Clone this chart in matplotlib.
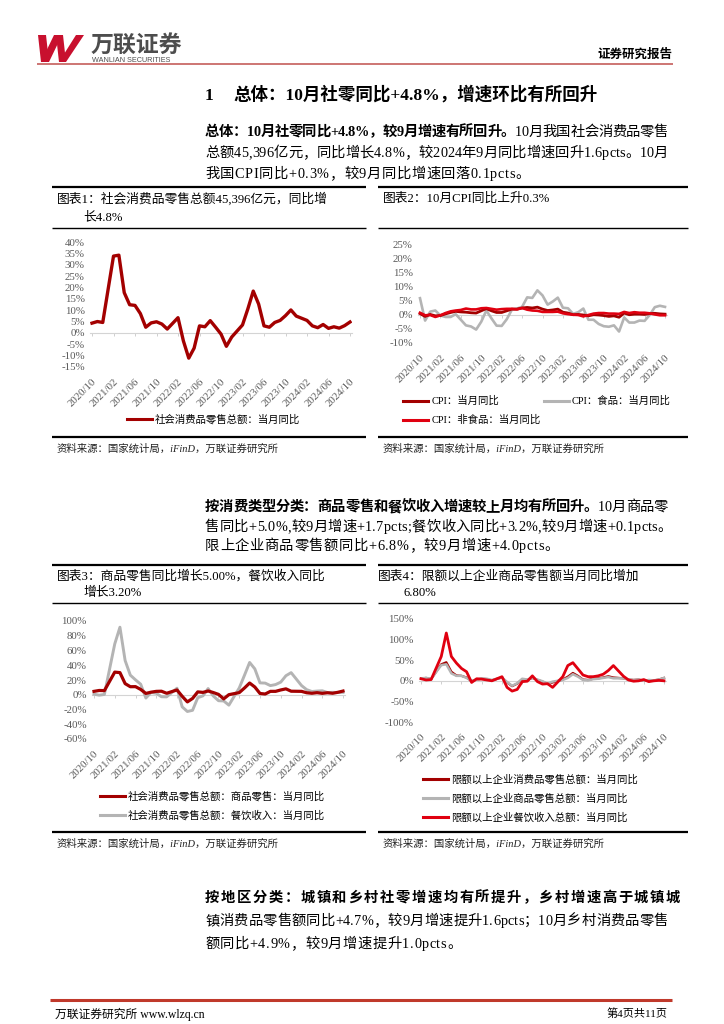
import numpy as np
import matplotlib
matplotlib.use('Agg')
import matplotlib.pyplot as plt
from matplotlib.lines import Line2D
from matplotlib.patches import Polygon

plt.rcParams['font.family'] = ['Liberation Serif', 'Noto Sans CJK SC']
plt.rcParams['axes.unicode_minus'] = False

nan = np.nan
W, H = 724, 1024

# monthly axis 2020/10 .. 2024/10
months = (['2020/10', '2020/11', '2020/12']
          + [f'{y}/{m:02d}' for y in (2021, 2022, 2023) for m in range(1, 13)]
          + [f'2024/{m:02d}' for m in range(1, 11)])
tick_labels = months[::4]

# chart 1: total retail sales yoy (%), Jan merged into Feb
retail_total = [4.3, 5.0, 4.6, nan, 33.8, 34.2, 17.7, 12.4, 12.1, 8.5, 2.5, 4.4, 4.9, 3.9, 1.7,
                nan, 6.7, -3.5, -11.1, -6.7, 3.1, 2.7, 5.4, 2.5, -0.5, -5.9, -1.8,
                nan, 3.5, 10.6, 18.4, 12.7, 3.1, 2.5, 4.6, 5.5, 7.6, 10.1, 7.4,
                nan, 5.5, 3.1, 2.3, 3.7, 2.0, 2.7, 2.1, 3.2, 4.8]

# chart 2: CPI yoy (%)
cpi_all = [0.5, -0.5, 0.2, -0.3, -0.2, 0.4, 0.9, 1.3, 1.1, 1.0, 0.8, 0.7, 1.5, 2.3, 1.5,
           0.9, 0.9, 1.5, 2.1, 2.1, 2.5, 2.7, 2.5, 2.8, 2.1, 1.6, 1.8,
           2.1, 1.0, 0.7, 0.1, 0.2, 0.0, -0.3, 0.1, 0.0, -0.2, -0.5, -0.3,
           -0.8, 0.7, 0.1, 0.3, 0.3, 0.2, 0.5, 0.6, 0.4, 0.3]
cpi_food = [6.0, -2.0, 1.2, 1.6, -0.2, -0.7, -0.7, 0.3, -1.7, -3.7, -4.1, -5.2, -2.4, 1.6, -1.2,
            -3.8, -3.9, -1.5, 1.9, 2.3, 2.9, 6.3, 6.1, 8.8, 7.0, 3.7, 4.8,
            6.2, 2.6, 2.4, 0.4, 1.0, 2.3, -1.7, -1.7, -3.2, -4.0, -4.2, -3.7,
            -5.9, -0.9, -2.7, -2.7, -2.0, -2.1, 0.0, 2.8, 3.3, 2.9]
cpi_nonfood = [0.8, -0.1, 0.0, -0.7, -0.1, 0.7, 1.3, 1.6, 1.8, 2.3, 2.0, 2.0, 2.4, 2.5, 2.2,
               1.9, 2.1, 2.2, 2.2, 2.0, 2.5, 1.9, 1.6, 1.5, 1.1, 1.1, 1.1,
               1.2, 0.6, 0.3, 0.1, 0.0, -0.5, 0.0, 0.5, 0.7, 0.7, 0.5, 0.5,
               0.4, 1.1, 0.7, 1.0, 0.8, 0.8, 0.6, 0.2, -0.1, -0.1]

# chart 3: goods retail / catering yoy (%)
goods = [4.6, 5.8, 5.6, nan, 30.7, 30.0, 15.1, 10.9, 11.0, 7.2, 1.8, 3.5, 4.6, 4.8, 2.0,
         nan, 6.5, -2.1, -9.7, -5.0, 3.9, 3.2, 5.1, 3.0, 0.5, -5.6, 0.1,
         nan, 2.9, 9.1, 15.9, 10.5, 1.7, 1.0, 4.6, 4.6, 6.5, 8.0, 4.8,
         nan, 4.6, 2.7, 2.0, 2.8, 1.9, 2.7, 2.0, 3.3, 5.0]
catering = [0.8, -0.6, 0.4, nan, 68.9, 91.6, 46.4, 26.6, 20.2, 14.3, -4.5, 3.1, 2.0, -2.7, -2.9,
            nan, 8.9, -16.4, -22.7, -21.1, -4.0, -1.5, 8.4, -1.7, -8.1, -8.4, -14.1,
            nan, 9.2, 26.3, 43.8, 35.1, 16.1, 15.8, 12.4, 13.8, 17.1, 25.8, 30.0,
            nan, 12.5, 6.9, 4.4, 5.0, 5.4, 3.0, 3.3, 3.1, 3.2]

# chart 4: above-limit enterprises yoy (%)
above_total = [5, 7, 4, nan, 40, 45, 22, 13, 12, 8, -1, 3, 5, 4, 1,
               nan, 8, -4, -13, -7, 4, 2, 7, 2, -2, -8, -4,
               nan, 3, 10, 19, 12, 3, 2, 5, 6, 8, 11, 8,
               nan, 6, 3, 2, 3, 0, 1, 1, 3, 7]
above_goods = [6, 7, 5, nan, 38, 40, 18, 12, 12, 7, 0, 3, 6, 5, 2,
               nan, 8, -3, -12, -6, 5, 3, 7, 3, -1, -7, -2,
               nan, 2, 7, 16, 10, 2, 1, 4, 5, 7, 9, 6,
               nan, 6, 3, 2, 3, 0, 2, 1, 3, 7]
above_catering = [5, 2, 3, nan, 59, 116, 59, 43, 30, 22, -4, 5, 4, 2, 0,
                  nan, 10, -16, -25, -21, -2, -1, 12, -2, -8, -7, -16,
                  nan, 10, 37, 44, 29, 14, 10, 10, 12, 16, 25, 37,
                  nan, 11, 2, -1, 0, 3, -2, 0, 1, 0]

DARK = '#A30000'
RED = '#E00010'
GRAY = '#B4B4B4'
TXT = '#595959'

fig = plt.figure(figsize=(W / 100, H / 100), dpi=100)
renderer = fig.canvas.get_renderer()


def fx(x):
    return x / W


def fy(y):
    return 1 - y / H


def hline(x0, x1, y, color='black', lw=1.0):
    fig.add_artist(Line2D([fx(x0), fx(x1)], [fy(y), fy(y)], transform=fig.transFigure,
                          color=color, lw=lw, solid_capstyle='butt'))


def line_text(x, y, runs, size, right=None):
    # draw a line char by char so it can be stretched to the right margin
    items = [(c, b) for s, b in runs for c in s]
    arts = []
    for c, b in items:
        t = fig.text(0, fy(y), c, fontsize=size, weight='bold' if b else 'normal',
                     va='baseline', ha='left')
        arts.append((t, t.get_window_extent(renderer).width))
    total = sum(w for _, w in arts)
    gap = (right - x - total) / (len(arts) - 1) if right else 0.6
    cur = x
    for t, w in arts:
        t.set_x(fx(cur))
        cur += w + gap


def chart(x0, x1, ytop, ybot, ylim, step, series):
    pm = (x1 - x0) / 48
    left, right = x0 - 0.3 * pm, x1 + 0.3 * pm
    ax = fig.add_axes([fx(left), fy(ybot), (right - left) / W, (ybot - ytop) / H])
    ax.set_xlim(-0.3, 48.3)
    ax.set_ylim(*ylim)
    xs = np.arange(len(months))
    for vals, color, lw in series:
        v = np.array(vals, float)
        m = ~np.isnan(v)
        ax.plot(xs[m], v[m], color=color, lw=lw, solid_joinstyle='round', zorder=3)
    for s in ax.spines.values():
        s.set_visible(False)
    yt = np.arange(ylim[0], ylim[1] + 0.1, step)
    ax.set_yticks(yt)
    ax.set_yticklabels([f'{v:.0f}%' for v in yt])
    ax.set_xticks(range(0, 49, 4))
    ax.set_xticklabels(tick_labels, rotation=45, ha='right', va='top', rotation_mode='anchor')
    ax.tick_params(axis='both', length=0, labelsize=7.8, labelcolor=TXT)
    ax.tick_params(axis='x', pad=7)
    ax.tick_params(axis='y', pad=4)
    sec = ax.secondary_xaxis((0 - ylim[0]) / (ylim[1] - ylim[0]))
    sec.set_xticks(range(0, 49, 4))
    sec.set_xticklabels([])
    sec.tick_params(length=2.5, width=0.6, color='#C8C8C8')
    for s in sec.spines.values():
        s.set_color('#D4D4D4')
        s.set_linewidth(0.8)
    return ax


def legend(entries, x, y, ncol=1, colsp=2.0):
    handles = [Line2D([], [], color=c, lw=2.2) for c, _ in entries]
    labels = [l for _, l in entries]
    fig.legend(handles, labels, loc='upper left', bbox_to_anchor=(fx(x), fy(y)),
               frameon=False, fontsize=7.5, handlelength=2.4, handletextpad=0.3,
               borderpad=0, borderaxespad=0, labelspacing=0.85, ncol=ncol,
               columnspacing=colsp)


# header logo
LOGO = '#C8102E'
for pts in ([(38, 35), (46, 35), (49, 62), (41, 62)],
            [(41, 62), (49, 62), (62, 35), (54, 35)],
            [(56, 35), (63, 35), (66, 62), (59, 62)],
            [(59, 62), (66, 62), (84, 35), (76, 35)]):
    fig.add_artist(Polygon([(fx(a), fy(b)) for a, b in pts], closed=True,
                           transform=fig.transFigure, color=LOGO, lw=0))
fig.text(fx(91), fy(52), '万联证券', fontsize=16.5, weight='bold', color='#4D4D4D', va='baseline')
fig.text(fx(92), fy(62), 'WANLIAN SECURITIES', fontsize=5.2, color='#4D4D4D',
         family='Liberation Sans', va='baseline')
fig.text(fx(672), fy(58), '证券研究报告', fontsize=9, weight='bold', ha='right', va='baseline')
hline(37, 673, 63.5, '#C0504D', 1.1)

# section heading
fig.text(fx(205), fy(100), '1', fontsize=12.6, weight='bold', va='baseline')
fig.text(fx(233), fy(100), '总体：10月社零同比+4.8%，增速环比有所回升', fontsize=12.6,
         weight='bold', va='baseline')

BODY = 10.3
line_text(205, 136, [('总体：10月社零同比+4.8%，较9月增速有所回升。', True),
                     ('10月我国社会消费品零售', False)], BODY, right=668)
line_text(205, 157, [('总额45,396亿元，同比增长4.8%，较2024年9月同比增速回升1.6pcts。10月', False)],
          BODY, right=668)
line_text(205, 178, [('我国CPI同比+0.3%，较9月同比增速回落0.1pcts。', False)], BODY)

line_text(205, 511, [('按消费类型分类：商品零售和餐饮收入增速较上月均有所回升。', True),
                     ('10月商品零', False)], BODY, right=668)
line_text(205, 531, [('售同比+5.0%,较9月增速+1.7pcts;餐饮收入同比+3.2%,较9月增速+0.1pcts。', False)],
          BODY, right=672)
line_text(205, 550, [('限上企业商品零售额同比+6.8%，较9月增速+4.0pcts。', False)], BODY)

line_text(205, 902, [('按地区分类：城镇和乡村社零增速均有所提升，乡村增速高于城镇城', True)],
          BODY, right=680)
line_text(205, 925, [('镇消费品零售额同比+4.7%，较9月增速提升1.6pcts；10月乡村消费品零售', False)],
          BODY, right=668)
line_text(205, 948, [('额同比+4.9%，较9月增速提升1.0pcts。', False)], BODY)

# chart frames
SRC = '资料来源：国家统计局，iFinD，万联证券研究所'
for (bx0, bx1) in ((52, 366), (378, 688)):
    for top, sep, bot in ((187, 228, 437), (565, 603, 832)):
        hline(bx0, bx1, top, 'black', 1.6)
        hline(bx0, bx1, sep, 'black', 1.0)
        hline(bx0, bx1, bot, 'black', 1.6)
    fig.text(fx(bx0 + 5), fy(449), SRC, fontsize=7.5, style='italic', va='center', color='#222222')
    fig.text(fx(bx0 + 5), fy(844), SRC, fontsize=7.5, style='italic', va='center', color='#222222')

TFS = 9.2
fig.text(fx(57), fy(199), '图表1：社会消费品零售总额45,396亿元，同比增', fontsize=TFS, va='center')
fig.text(fx(83), fy(217), '长4.8%', fontsize=TFS, va='center')
fig.text(fx(383), fy(199), '图表2：10月CPI同比上升0.3%', fontsize=TFS, va='center')
fig.text(fx(57), fy(576), '图表3：商品零售同比增长5.00%，餐饮收入同比', fontsize=TFS, va='center')
fig.text(fx(83), fy(593), '增长3.20%', fontsize=TFS, va='center')
fig.text(fx(378), fy(576), '图表4：限额以上企业商品零售额当月同比增加', fontsize=TFS, va='center')
fig.text(fx(403), fy(593), '6.80%', fontsize=TFS, va='center')

# charts
chart(92, 350, 242, 367, (-15, 40), 5, [(retail_total, DARK, 2.4)])
legend([(DARK, '社会消费品零售总额：当月同比')], 127, 414)

chart(420, 665, 245, 343, (-10, 25), 5,
      [(cpi_food, GRAY, 1.9), (cpi_all, DARK, 2.0), (cpi_nonfood, RED, 1.9)])
legend([(DARK, 'CPI：当月同比'), (RED, 'CPI：非食品：当月同比'), (GRAY, 'CPI：食品：当月同比')],
       403, 396, ncol=2, colsp=0.3)

chart(94, 343, 621, 739, (-60, 100), 20, [(catering, GRAY, 2.1), (goods, DARK, 2.3)])
legend([(DARK, '社会消费品零售总额：商品零售：当月同比'), (GRAY, '社会消费品零售总额：餐饮收入：当月同比')],
       100, 791)

chart(421, 664, 619, 722, (-100, 150), 50,
      [(above_total, DARK, 1.6), (above_goods, GRAY, 1.8), (above_catering, RED, 2.0)])
legend([(DARK, '限额以上企业消费品零售总额：当月同比'), (GRAY, '限额以上企业商品零售总额：当月同比'),
        (RED, '限额以上企业餐饮收入总额：当月同比')], 423, 774)

# footer
hline(50, 672, 1000, '#C0392B', 2.2)
fig.text(fx(55), fy(1014), '万联证券研究所 www.wlzq.cn', fontsize=8.5, va='center')
fig.text(fx(668), fy(1014), '第4页共11页', fontsize=8, va='center', ha='right')

fig.savefig('out.png', dpi=100)
